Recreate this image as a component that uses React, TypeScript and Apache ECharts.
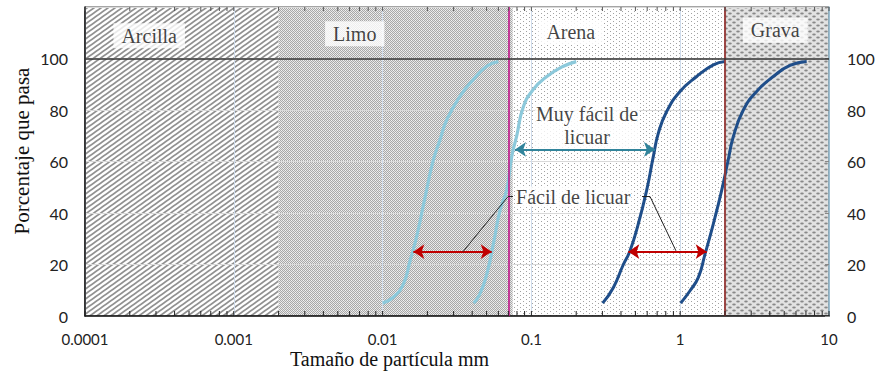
import React, { useEffect, useRef } from "react";
import * as echarts from "echarts";

// ---------- axes ----------
const X_MIN = 0.0001;
const X_MAX = 10;
const X_TICK_LABELS = ["0.0001", "0.001", "0.01", "0.1", "1", "10"];
const DECADES = [0.0001, 0.001, 0.01, 0.1, 1];
const MINOR_MULTIPLIERS = [1, 2, 3, 4, 5, 6, 7, 8, 9];
const Y_MIN = 0;
const Y_MAX = 120;
const Y_STEP = 20;
const Y_LAST_LABEL = 100;

// ---------- soil zones ----------
const ZONE_NAMES = ["Arcilla", "Limo", "Arena", "Grava"];
const ZONE_BOUNDS = [0.0001, 0.002, 0.075, 2, 10];
const ZONE_LABEL_X = [0.00027, 0.0065, 0.184, 4.35];
const ZONE_LABEL_Y = [108.8, 109.6, 110.3, 111];
const FULL_PASS_LINE = 100;

// ---------- grading curves (x: mm, y: % passing) ----------
const CURVE_A_X = [0.01, 0.0118, 0.0138, 0.0153, 0.0169, 0.0193, 0.0219, 0.0243, 0.027, 0.0331, 0.0407, 0.0501, 0.06];
const CURVE_A_Y = [5, 7.3, 12.5, 21.5, 30.6, 46.2, 60.5, 68.4, 76.2, 85.3, 91.8, 97, 98.8];
const CURVE_B_X = [0.041, 0.045, 0.05, 0.0555, 0.0615, 0.0682, 0.0738, 0.0797, 0.088, 0.103, 0.127, 0.164, 0.2];
const CURVE_B_Y = [5, 8.5, 16, 28, 41, 49, 62, 70, 81, 88, 93, 97, 98.8];
const CURVE_C_X = [0.301, 0.355, 0.415, 0.46, 0.523, 0.595, 0.659, 0.713, 0.811, 0.997, 1.29, 1.67, 2.0];
const CURVE_C_Y = [5, 11, 20, 25.3, 35.8, 48.8, 61.8, 71, 79.4, 87.2, 93, 97.5, 98.8];
const CURVE_D_X = [1.007, 1.164, 1.324, 1.468, 1.67, 1.9, 2.1, 2.274, 2.656, 3.265, 4.22, 5.47, 7.08];
const CURVE_D_Y = [5, 9.8, 15, 24, 35.8, 48.8, 60.5, 69.6, 80, 87.2, 93, 97.3, 98.8];

// ---------- annotations ----------
const RED_ARROW_Y = 25;
const RED_ARROW_LEFT_X = [0.0161, 0.0541];
const RED_ARROW_RIGHT_X = [0.448, 1.507];
const TEAL_ARROW_Y = 64.7;
const TEAL_ARROW_X = [0.0776, 0.677];
const LEADER_LEFT_X = [0.0347, 0.0697, 0.0752];
const LEADER_LEFT_Y = [25, 46.4, 46.4];
const LEADER_RIGHT_X = [0.554, 0.627, 0.937];
const LEADER_RIGHT_Y = [46.4, 46.4, 25.3];
const NOTE_EASY_TEXT = "Fácil de licuar";
const NOTE_EASY_X = 0.0776;
const NOTE_EASY_Y = 46.4;
const NOTE_VERY_EASY_TEXT = "Muy fácil de\nlicuar";
const NOTE_VERY_EASY_X = 0.2366;
const NOTE_VERY_EASY_Y = 73.9;

const X_TITLE = "Tamaño de partícula mm";
const Y_TITLE = "Porcentaje que pasa";

const SERIF = "'Liberation Serif', 'Times New Roman', serif";
const SANS = "Lato, 'Liberation Sans', sans-serif";

const zip = (xs: number[], ys: number[]) => xs.map((x, i) => [x, ys[i]]);

function makePattern(w: number, h: number, draw: (ctx: CanvasRenderingContext2D) => void) {
  const c = document.createElement("canvas");
  c.width = w;
  c.height = h;
  const ctx = c.getContext("2d") as CanvasRenderingContext2D;
  draw(ctx);
  return { image: c.toDataURL(), imageWidth: w, imageHeight: h, repeat: "repeat" };
}

function buildPatterns() {
  const arcilla = makePattern(7, 5, (ctx) => {
    ctx.fillStyle = "#ffffff";
    ctx.fillRect(0, 0, 7, 5);
    ctx.strokeStyle = "#909090";
    ctx.lineWidth = 1.8;
    for (const k of [-1, 0, 1, 2]) {
      ctx.beginPath();
      ctx.moveTo(k * 7 - 7, 10);
      ctx.lineTo(k * 7 + 14, -5);
      ctx.stroke();
    }
  });
  const limo = makePattern(4, 4, (ctx) => {
    for (let y = 0; y < 4; y++) {
      for (let x = 0; x < 4; x++) {
        ctx.fillStyle = (x + y) % 2 === 0 ? "#a8a8a8" : "#e6e6e6";
        ctx.fillRect(x, y, 1, 1);
      }
    }
    ctx.fillStyle = "#f4f4f4";
    ctx.fillRect(1, 2, 1, 1);
    ctx.fillRect(3, 0, 1, 1);
  });
  const arena = makePattern(6, 4, (ctx) => {
    ctx.fillStyle = "#ffffff";
    ctx.fillRect(0, 0, 6, 4);
    ctx.fillStyle = "#a2a2a2";
    ctx.fillRect(1, 1, 1, 1);
    ctx.fillRect(4, 3, 1, 1);
  });
  const grava = makePattern(8, 6, (ctx) => {
    ctx.fillStyle = "#e2e2e2";
    ctx.fillRect(0, 0, 8, 6);
    ctx.fillStyle = "#888888";
    ctx.beginPath();
    ctx.ellipse(2, 1.5, 1.8, 1.1, 0, 0, Math.PI * 2);
    ctx.fill();
    ctx.beginPath();
    ctx.ellipse(6, 4.5, 1.8, 1.1, 0, 0, Math.PI * 2);
    ctx.fill();
  });
  return [arcilla, limo, arena, grava];
}

export default function App() {
  const ref = useRef<HTMLDivElement>(null);

  useEffect(() => {
    if (!ref.current) return;
    const chart = echarts.init(ref.current, undefined, { renderer: "svg" });
    const patterns = buildPatterns();

    const zoneData = ZONE_NAMES.map((_, i) => [ZONE_BOUNDS[i], ZONE_BOUNDS[i + 1], i]);
    const tickData: number[][] = [];
    DECADES.forEach((d) => MINOR_MULTIPLIERS.forEach((m) => tickData.push([d * m, 0])));
    tickData.push([X_MAX, 0]);

    const yLabel = (v: number) => (v > Y_LAST_LABEL ? "" : String(v));

    const option: any = {
      animation: false,
      grid: {
        left: 85,
        right: 53,
        top: 7,
        bottom: 60,
        show: true,
        borderColor: "#4a4a4a",
        borderWidth: 1,
        backgroundColor: "transparent",
      },
      xAxis: {
        type: "log",
        logBase: 10,
        min: X_MIN,
        max: X_MAX,
        axisLine: { show: true, lineStyle: { color: "#111", width: 1.5 } },
        axisTick: { show: false },
        splitLine: { show: true, lineStyle: { color: "#cfdcec", width: 1 } },
        axisLabel: {
          formatter: (v: number) => X_TICK_LABELS[Math.round(Math.log10(v)) + 4] ?? "",
          fontFamily: SANS,
          fontSize: 15,
          color: "#222",
          margin: 15,
        },
      },
      yAxis: [
        {
          type: "value",
          min: Y_MIN,
          max: Y_MAX,
          interval: Y_STEP,
          axisLine: { show: true, lineStyle: { color: "#111", width: 1.5 } },
          axisTick: { show: false },
          splitLine: { show: true, lineStyle: { color: "#d9d9d9", width: 1 } },
          axisLabel: { formatter: yLabel, fontFamily: SANS, fontSize: 16, color: "#222", margin: 17 },
        },
        {
          type: "value",
          position: "right",
          min: Y_MIN,
          max: Y_MAX,
          interval: Y_STEP,
          axisLine: { show: true, lineStyle: { color: "#8db4c8", width: 1.5 } },
          axisTick: { show: true, inside: true, length: 4, lineStyle: { color: "#888" } },
          splitLine: { show: false },
          axisLabel: { formatter: yLabel, fontFamily: SANS, fontSize: 16, color: "#222", margin: 18 },
        },
      ],
      graphic: [
        {
          type: "text",
          x: 290,
          y: 359,
          style: {
            text: X_TITLE,
            fontFamily: SERIF,
            fontSize: 20,
            fill: "#111",
            align: "left",
            verticalAlign: "middle",
          },
        },
        {
          type: "text",
          x: 22,
          y: 151,
          rotation: Math.PI / 2,
          style: {
            text: Y_TITLE,
            fontFamily: SERIF,
            fontSize: 21,
            fill: "#111",
            align: "center",
            verticalAlign: "middle",
          },
        },
      ],
      series: [
        {
          type: "custom",
          name: "zones",
          z: -1,
          clip: true,
          silent: true,
          data: zoneData,
          renderItem: (_p: any, api: any) => {
            const i = api.value(2);
            const a = api.coord([api.value(0), Y_MAX]);
            const b = api.coord([api.value(1), Y_MIN]);
            return {
              type: "rect",
              shape: { x: a[0], y: a[1], width: b[0] - a[0], height: b[1] - a[1] },
              style: { fill: patterns[i] },
            };
          },
        },
        {
          type: "custom",
          name: "ticks",
          z: 6,
          silent: true,
          data: tickData,
          renderItem: (_p: any, api: any) => {
            const v = api.value(0);
            const b = api.coord([v, Y_MIN]);
            const t = api.coord([v, Y_MAX]);
            return {
              type: "group",
              children: [
                { type: "line", shape: { x1: b[0], y1: b[1], x2: b[0], y2: b[1] - 5 }, style: { stroke: "#222", lineWidth: 1 } },
                { type: "line", shape: { x1: t[0], y1: t[1], x2: t[0], y2: t[1] + 4 }, style: { stroke: "#555", lineWidth: 1 } },
              ],
            };
          },
        },
        {
          type: "line",
          name: "A",
          data: zip(CURVE_A_X, CURVE_A_Y),
          smooth: true,
          showSymbol: false,
          z: 4,
          lineStyle: { color: "#8cc9db", width: 3.2 },
          markLine: {
            silent: true,
            symbol: "none",
            label: { show: false },
            data: [
              { xAxis: ZONE_BOUNDS[1], lineStyle: { color: "#c98686", width: 1.8, type: "solid" } },
              { xAxis: ZONE_BOUNDS[2], lineStyle: { color: "#c0158a", width: 1.6, type: "solid" } },
              { xAxis: ZONE_BOUNDS[3], lineStyle: { color: "#943634", width: 1.8, type: "solid" } },
              { yAxis: FULL_PASS_LINE, lineStyle: { color: "#333", width: 1.5, type: "solid" } },
            ],
          },
        },
        {
          type: "line",
          name: "B",
          data: zip(CURVE_B_X, CURVE_B_Y),
          smooth: true,
          showSymbol: false,
          z: 4,
          lineStyle: { color: "#8cc9db", width: 3.2 },
        },
        {
          type: "line",
          name: "C",
          data: zip(CURVE_C_X, CURVE_C_Y),
          smooth: true,
          showSymbol: false,
          z: 4,
          lineStyle: { color: "#1f4e8a", width: 3 },
        },
        {
          type: "line",
          name: "D",
          data: zip(CURVE_D_X, CURVE_D_Y),
          smooth: true,
          showSymbol: false,
          z: 4,
          lineStyle: { color: "#1f4e8a", width: 3 },
        },
        {
          type: "line",
          name: "leaderL",
          data: zip(LEADER_LEFT_X, LEADER_LEFT_Y),
          showSymbol: false,
          z: 5,
          lineStyle: { color: "#222", width: 1 },
          markLine: {
            silent: true,
            symbol: ["arrow", "arrow"],
            symbolSize: 11,
            label: { show: false },
            data: [
              [
                { coord: [RED_ARROW_LEFT_X[0], RED_ARROW_Y], lineStyle: { color: "#c00000", width: 2, type: "solid" } },
                { coord: [RED_ARROW_LEFT_X[1], RED_ARROW_Y] },
              ],
              [
                { coord: [RED_ARROW_RIGHT_X[0], RED_ARROW_Y], lineStyle: { color: "#c00000", width: 2, type: "solid" } },
                { coord: [RED_ARROW_RIGHT_X[1], RED_ARROW_Y] },
              ],
              [
                { coord: [TEAL_ARROW_X[0], TEAL_ARROW_Y], lineStyle: { color: "#31849b", width: 2, type: "solid" } },
                { coord: [TEAL_ARROW_X[1], TEAL_ARROW_Y] },
              ],
            ],
          },
        },
        {
          type: "line",
          name: "leaderR",
          data: zip(LEADER_RIGHT_X, LEADER_RIGHT_Y),
          showSymbol: false,
          z: 5,
          lineStyle: { color: "#222", width: 1 },
        },
        {
          type: "scatter",
          name: "zoneLabels",
          symbolSize: 0,
          z: 7,
          silent: true,
          data: ZONE_NAMES.map((n, i) => ({ name: n, value: [ZONE_LABEL_X[i], ZONE_LABEL_Y[i]] })),
          label: {
            show: true,
            position: "inside",
            formatter: "{b}",
            fontFamily: SERIF,
            fontSize: 20,
            color: "#111",
            backgroundColor: "#ffffff",
            padding: [3, 8, 2, 8],
          },
        },
        {
          type: "scatter",
          name: "notes",
          symbolSize: 0,
          z: 7,
          silent: true,
          data: [
            {
              name: NOTE_EASY_TEXT,
              value: [NOTE_EASY_X, NOTE_EASY_Y],
              label: { position: [0, 0], align: "left", verticalAlign: "middle" },
            },
            {
              name: NOTE_VERY_EASY_TEXT,
              value: [NOTE_VERY_EASY_X, NOTE_VERY_EASY_Y],
              label: { position: "inside", align: "center", lineHeight: 23 },
            },
          ],
          label: {
            show: true,
            formatter: "{b}",
            fontFamily: SERIF,
            fontSize: 20,
            color: "#111",
            backgroundColor: "#ffffff",
            padding: [0, 1],
          },
        },
      ],
    };

    chart.setOption(option);
    return () => chart.dispose();
  }, []);

  return (
    <div
      ref={ref}
      style={{ position: "fixed", left: 0, top: 0, width: 882, height: 376, background: "#fff" }}
    />
  );
}
